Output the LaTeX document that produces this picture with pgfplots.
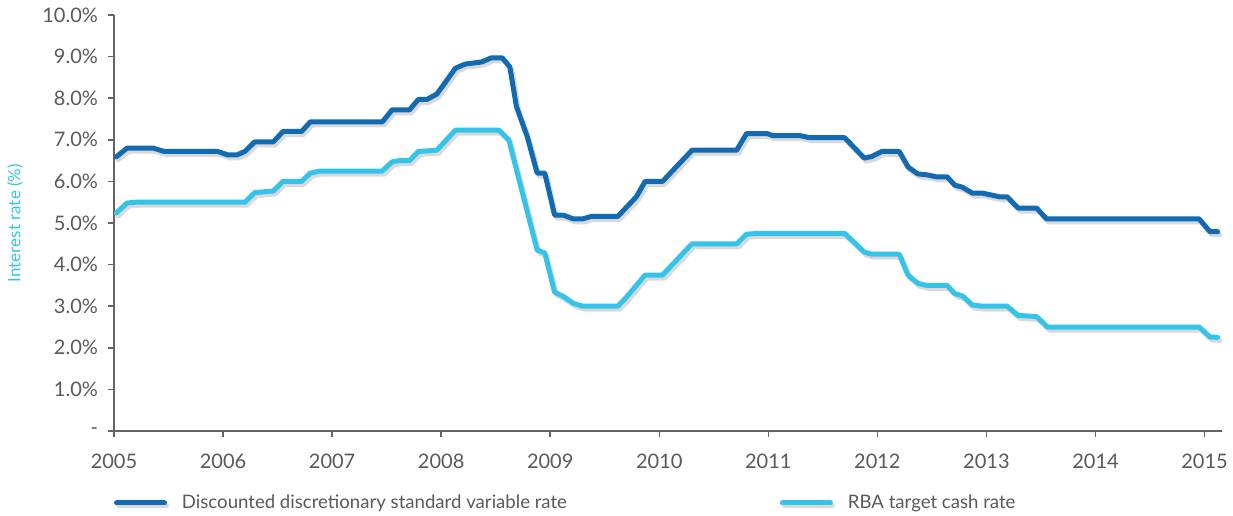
\documentclass[border=0pt]{standalone}
\usepackage{pgfplots}
\pgfplotsset{compat=1.18}
\usepackage{fontspec}
\setmainfont{Lato}
\definecolor{darkblue}{RGB}{18,106,178}
\definecolor{lightblue}{RGB}{52,196,234}
\definecolor{txtgray}{RGB}{88,89,91}
\definecolor{axgray}{RGB}{100,100,100}

\pgfplotstableread{
x y
2005.02 6.59
2005.12 6.80
2005.36 6.80
2005.46 6.72
2005.95 6.72
2006.04 6.64
2006.13 6.64
2006.20 6.72
2006.29 6.95
2006.46 6.95
2006.55 7.20
2006.72 7.20
2006.80 7.43
2007.46 7.43
2007.55 7.72
2007.71 7.72
2007.79 7.97
2007.87 7.97
2007.96 8.10
2008.03 8.35
2008.13 8.72
2008.22 8.82
2008.37 8.87
2008.46 8.97
2008.56 8.97
2008.63 8.75
2008.69 7.80
2008.79 7.07
2008.88 6.20
2008.95 6.20
2009.04 5.19
2009.12 5.19
2009.21 5.10
2009.30 5.10
2009.38 5.16
2009.62 5.16
2009.79 5.63
2009.87 6.00
2010.03 6.00
2010.30 6.75
2010.71 6.75
2010.80 7.15
2010.99 7.15
2011.04 7.10
2011.29 7.10
2011.38 7.05
2011.70 7.05
2011.88 6.56
2011.95 6.60
2012.04 6.72
2012.20 6.72
2012.28 6.35
2012.37 6.18
2012.45 6.16
2012.54 6.11
2012.64 6.11
2012.71 5.91
2012.78 5.86
2012.87 5.72
2012.96 5.72
2013.12 5.63
2013.19 5.63
2013.29 5.36
2013.46 5.36
2013.55 5.10
2014.95 5.10
2015.05 4.79
2015.12 4.79
}\svr

\pgfplotstableread{
x y
2005.02 5.24
2005.12 5.48
2005.20 5.50
2006.20 5.50
2006.29 5.73
2006.46 5.77
2006.55 6.00
2006.72 6.00
2006.80 6.20
2006.89 6.25
2007.46 6.25
2007.55 6.47
2007.62 6.50
2007.71 6.50
2007.79 6.72
2007.96 6.75
2008.13 7.23
2008.53 7.23
2008.62 7.00
2008.88 4.35
2008.95 4.28
2009.04 3.34
2009.13 3.22
2009.21 3.07
2009.30 3.00
2009.62 3.00
2009.70 3.22
2009.87 3.75
2010.03 3.75
2010.30 4.50
2010.71 4.50
2010.80 4.73
2010.90 4.75
2011.70 4.75
2011.88 4.30
2011.95 4.25
2012.20 4.25
2012.28 3.75
2012.37 3.55
2012.45 3.50
2012.64 3.50
2012.71 3.30
2012.78 3.25
2012.87 3.03
2012.96 3.00
2013.19 3.00
2013.29 2.78
2013.46 2.75
2013.56 2.50
2014.95 2.50
2015.05 2.26
2015.12 2.25
}\cash

\begin{document}
\begin{tikzpicture}
\useasboundingbox (-57pt,-42pt) rectangle (559.5pt,215.5pt);
\begin{axis}[
  at={(0,0)}, anchor=south west,
  scale only axis, width=554pt, height=208pt,
  xmin=2005, xmax=2015.16, ymin=0, ymax=10,
  axis lines*=left,
  axis line style={axgray, line width=0.75pt},
  tick style={axgray, line width=0.75pt},
  tick align=outside, major tick length=3pt,
  xtick={2005,2006,...,2015},
  xticklabels={2005,2006,2007,2008,2009,2010,2011,2012,2013,2014,2015},
  ytick={0,1,...,10},
  yticklabels={-,1.0\%,2.0\%,3.0\%,4.0\%,5.0\%,6.0\%,7.0\%,8.0\%,9.0\%,10.0\%},
  ticklabel style={font=\fontsize{10}{12}\selectfont, text=txtgray},
  xticklabel style={yshift=-5pt},
  yticklabel style={xshift=-1.5pt},
  ylabel={Interest rate (\%)},
  ylabel style={font=\fontsize{8.5}{10}\selectfont, text=lightblue, at={(axis description cs:-0.0894,0.5)}, anchor=center, rotate=0},
  legend columns=2,
  legend style={draw=none, fill=none, inner sep=0pt, outer sep=0pt,
    at={(axis description cs:0.0,-0.173)}, anchor=west,
    font=\fontsize{9.3}{11}\selectfont, text=txtgray,
    /tikz/every odd column/.style={column sep=5.5pt},
    /tikz/every even column/.style={column sep=104.5pt}},
  legend image code/.code={\draw[#1, line width=2.5pt, line cap=round] (0.5pt,0pt) -- (24.5pt,0pt);},
]
\addplot[darkblue, line width=2.5pt, line join=round, line cap=round,
  preaction={draw=black!15, line width=2.5pt, transform canvas={xshift=1pt,yshift=-1.5pt}}] table[x=x,y=y] {\svr};
\addlegendentry{Discounted discretionary standard variable rate}
\addplot[lightblue, line width=2.5pt, line join=round, line cap=round,
  preaction={draw=black!15, line width=2.5pt, transform canvas={xshift=1pt,yshift=-1.5pt}}] table[x=x,y=y] {\cash};
\addlegendentry{RBA target cash rate}
\end{axis}
\end{tikzpicture}
\end{document}
